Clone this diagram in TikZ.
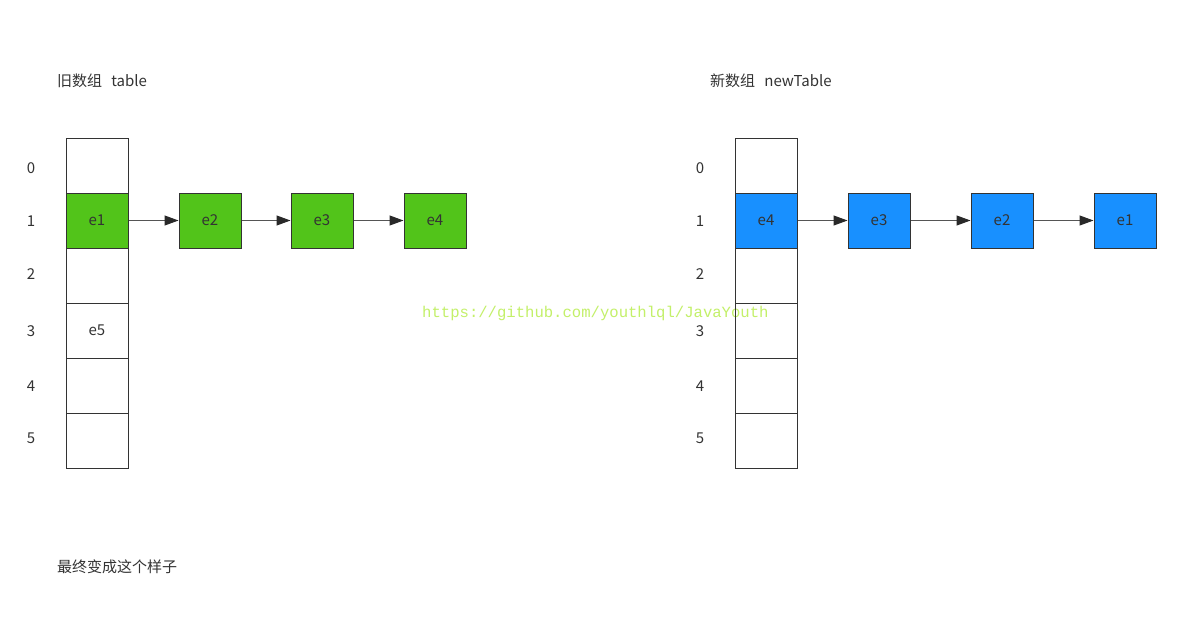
\documentclass[tikz,border=0pt]{standalone}
\usepackage{fontspec}
\setmainfont{Noto Sans CJK SC}
\newfontfamily\wmfont{Liberation Mono}
\usetikzlibrary{arrows.meta}
\definecolor{txt}{HTML}{333333}
\definecolor{lin}{HTML}{555555}
\definecolor{grn}{HTML}{52C41A}
\definecolor{blu}{HTML}{1890FF}
\definecolor{wm}{RGB}{195,240,105}
\tikzset{
  cell/.style={draw=txt, line width=1pt, minimum width=62pt, minimum height=55pt, inner sep=0pt, text=txt, font=\fontsize{15}{17}\selectfont},
  gcell/.style={cell, fill=grn},
  bcell/.style={cell, fill=blu},
  idx/.style={text=txt, font=\fontsize{15}{17}\selectfont, inner sep=0pt},
  title/.style={text=txt, font=\fontsize{15}{17}\selectfont, inner sep=0pt, anchor=west},
  link/.style={draw=lin, line width=1pt, -{Triangle[length=14pt,width=10pt,color=txt!80!black]}}
}
\begin{document}
\begin{tikzpicture}[x=1pt,y=-1pt]
\fill[white] (0,0) rectangle (1190,626);
\useasboundingbox (0,0) rectangle (1190,626);

% watermark
\node[text=wm, font=\wmfont\fontsize{15.6}{17}\selectfont, inner sep=0pt, anchor=west] (wmark) at (422,313) {https://github.com/youthlql/JavaYouth};

% titles
\node[title] (t1) at (57,81) {旧数组\ \ \,table};
\node[title] (t2) at (710,81) {新数组\ \ \,newTable};
\node[title] (t3) at (57,567) {最终变成这个样子};

% left table
\node[cell] (a0) at (97,165.5) {};
\node[gcell] (a1) at (97,220.5) {e1};
\node[cell] (a2) at (97,275.5) {};
\node[cell] (a3) at (97,330.5) {e5};
\node[cell] (a4) at (97,385.5) {};
\node[cell] (a5) at (97,440.5) {};
\node[gcell] (g2) at (210,220.5) {e2};
\node[gcell] (g3) at (322,220.5) {e3};
\node[gcell] (g4) at (435,220.5) {e4};
\draw[link] (a1) -- (g2);
\draw[link] (g2) -- (g3);
\draw[link] (g3) -- (g4);

\foreach \i/\y in {0/168,1/221,2/274,3/331,4/386,5/438}{
  \node[idx] (la\i) at (31,\y) {\i};
}

% right table
\node[cell] (b0) at (766,165.5) {};
\node[bcell] (b1) at (766,220.5) {e4};
\node[cell] (b2) at (766,275.5) {};
\node[cell] (b3) at (766,330.5) {};
\node[cell] (b4) at (766,385.5) {};
\node[cell] (b5) at (766,440.5) {};
\node[bcell] (n3) at (879,220.5) {e3};
\node[bcell] (n2) at (1002,220.5) {e2};
\node[bcell] (n1) at (1125,220.5) {e1};
\draw[link] (b1) -- (n3);
\draw[link] (n3) -- (n2);
\draw[link] (n2) -- (n1);

\foreach \i/\y in {0/168,1/221,2/274,3/331,4/386,5/438}{
  \node[idx] (lb\i) at (700,\y) {\i};
}
\end{tikzpicture}
\end{document}
